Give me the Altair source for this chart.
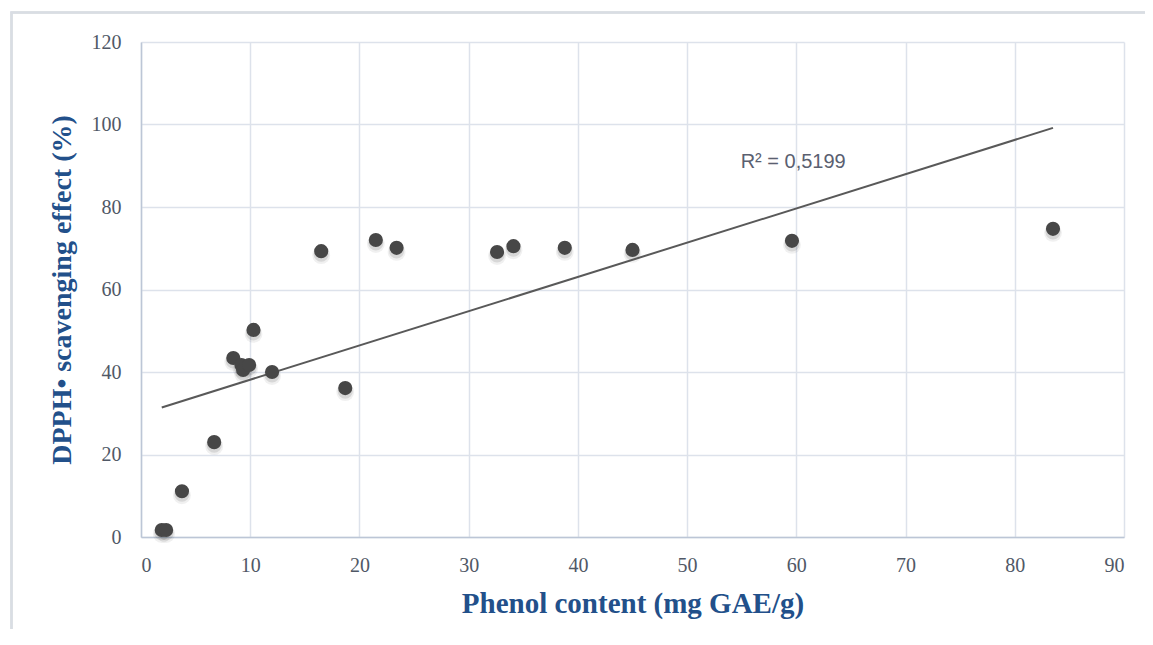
import altair as alt
import pandas as pd

# Data
phenol = [1.9, 2.3, 3.75, 6.7, 8.45, 9.2, 9.35, 9.9, 10.3, 12.0, 16.5, 18.7,
          21.5, 23.4, 32.6, 34.1, 38.8, 45.0, 59.6, 83.5]
dpph = [1.7, 1.7, 11.1, 23.0, 43.4, 41.7, 40.5, 41.7, 50.2, 40.0, 69.3, 36.1,
        72.0, 70.1, 69.1, 70.5, 70.1, 69.6, 71.8, 74.7]
x_ticks = [0, 10, 20, 30, 40, 50, 60, 70, 80, 90]
y_ticks = [0, 20, 40, 60, 80, 100, 120]
r2_label = "R² = 0,5199"

df = pd.DataFrame({"x": phenol, "y": dpph})

TITLE_COLOR = "#22508a"
LABEL_COLOR = "#505866"
GRID = "#dde2eb"
AXISLINE = "#bcc6d6"

xs = alt.Scale(domain=[0, 90], nice=False, zero=True)
ys = alt.Scale(domain=[0, 120], nice=False, zero=True)

xaxis = alt.Axis(values=x_ticks, title="Phenol content (mg GAE/g)", grid=True,
                 ticks=False, labelPadding=18, labelFont="Liberation Serif",
                 labelFontSize=20, labelColor=LABEL_COLOR, domainColor=AXISLINE,
                 domainWidth=1.5, gridColor=GRID, gridWidth=1.5,
                 titleFont="Liberation Serif", titleFontSize=29,
                 titleFontWeight="bold", titleColor=TITLE_COLOR,
                 titleBaseline="alphabetic", titleY=75)
yaxis = alt.Axis(values=y_ticks, title="DPPH• scavenging effect (%)", grid=True,
                 ticks=False, labelPadding=20, labelFont="Liberation Serif",
                 labelFontSize=20, labelColor=LABEL_COLOR, domainColor=AXISLINE,
                 domainWidth=1.5, gridColor=GRID, gridWidth=1.5,
                 titleFont="Liberation Serif", titleFontSize=28,
                 titleFontWeight="bold", titleColor=TITLE_COLOR,
                 titleBaseline="alphabetic", titleX=-71)

base = alt.Chart(df)

frame = base.mark_rect(fill=None, stroke="#d9dde4", strokeWidth=1.5, clip=False).encode(
    x=alt.value(-129.5), x2=alt.value(1060), y=alt.value(-29.5), y2=alt.value(700)
)

shadow1 = base.mark_circle(size=320, color="#000000", opacity=0.06, yOffset=4).encode(
    x=alt.X("x:Q", scale=xs, axis=xaxis), y=alt.Y("y:Q", scale=ys, axis=yaxis)
)
shadow2 = base.mark_circle(size=230, color="#000000", opacity=0.10, yOffset=3).encode(
    x=alt.X("x:Q", scale=xs), y=alt.Y("y:Q", scale=ys)
)
points = base.mark_circle(size=200, color="#474747", opacity=1).encode(
    x=alt.X("x:Q", scale=xs), y=alt.Y("y:Q", scale=ys)
)

trend = base.transform_regression("x", "y").mark_line(color="#595959", strokeWidth=2).encode(
    x=alt.X("x:Q", scale=xs), y=alt.Y("y:Q", scale=ys)
)

label = alt.Chart(pd.DataFrame({"t": [r2_label]})).mark_text(
    align="left", baseline="middle", font="Liberation Sans", fontSize=20, color="#5a6070"
).encode(x=alt.datum(54.9), y=alt.datum(90.9), text="t:N")

chart = alt.layer(frame, shadow1, shadow2, trend, points, label).properties(
    width=983, height=495,
    padding={"left": 133, "top": 34, "right": 21, "bottom": 92},
    autosize=alt.AutoSizeParams(type="none"),
).configure_view(stroke=None)

chart.save("out.html", embed_options={"renderer": "svg", "actions": False})
